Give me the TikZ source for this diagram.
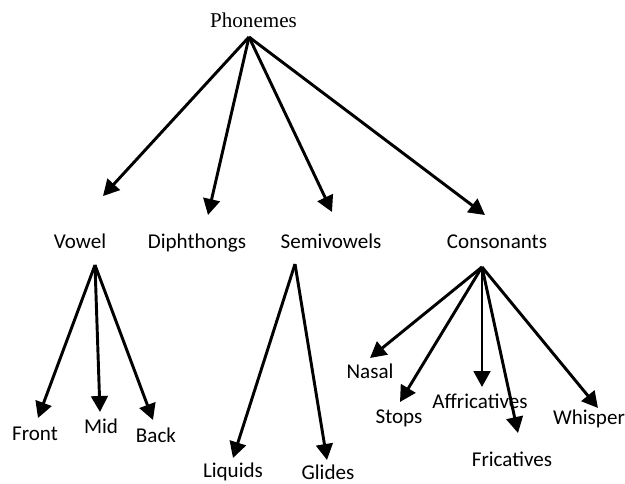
\documentclass[tikz,border=0pt]{standalone}
\usepackage{fontspec}
\setmainfont{Carlito}
\newfontfamily\serifface{Liberation Serif}
\usetikzlibrary{arrows.meta}
\begin{document}
\begin{tikzpicture}[x=0.75pt,y=-0.75pt,
  lbl/.style={anchor=base,inner sep=0pt,font=\fontsize{15.8}{19}\selectfont},
  arr/.style={line width=2.2pt,-{Triangle[length=12pt,width=12.5pt]}}]
\useasboundingbox (0,0) rectangle (625,483);
% labels
\node[lbl,font=\fontsize{15.8}{19}\selectfont\serifface] (phon) at (253.5,27) {Phonemes};
\node[lbl] (vowel) at (80,248) {Vowel};
\node[lbl] (diph) at (197,248) {Diphthongs};
\node[lbl] (semi) at (331,248) {Semivowels};
\node[lbl] (cons) at (497,248) {Consonants};
\node[lbl] (front) at (35,440) {Front};
\node[lbl] (mid) at (101,433) {Mid};
\node[lbl] (back) at (156,442) {Back};
\node[lbl] (liq) at (233,477) {Liquids};
\node[lbl] (glid) at (328,479) {Glides};
\node[lbl] (nasal) at (370,378) {Nasal};
\node[lbl] (stops) at (399,423) {Stops};
\node[lbl] (affr) at (480,408) {Affricatives};
\node[lbl] (fric) at (512,466) {Fricatives};
\node[lbl] (whis) at (589,424) {Whisper};
% apexes
\coordinate (pA) at (249,37);
\coordinate (vA) at (95,265);
\coordinate (sA) at (295,264);
\coordinate (cA) at (482,267);
% tips
\coordinate (tVowel) at (103,196);
\coordinate (tDiph) at (208,215);
\coordinate (tSemi) at (332,212);
\coordinate (tCons) at (485,215);
\coordinate (tFront) at (38,418);
\coordinate (tMid) at (100,412);
\coordinate (tBack) at (153,420);
\coordinate (tLiq) at (233,458);
\coordinate (tGlid) at (327,460);
\coordinate (tNasal) at (370,358);
\coordinate (tStops) at (400,402);
\coordinate (tAffr) at (482,387);
\coordinate (tFric) at (518,433);
\coordinate (tWhis) at (598,408);
% arrows
\draw[arr] (pA) -- (tVowel);
\draw[arr] (pA) -- (tDiph);
\draw[arr] (pA) -- (tSemi);
\draw[arr] (pA) -- (tCons);
\draw[arr] (vA) -- (tFront);
\draw[arr] (vA) -- (tMid);
\draw[arr] (vA) -- (tBack);
\draw[arr] (sA) -- (tLiq);
\draw[arr] (sA) -- (tGlid);
\draw[arr] (cA) -- (tNasal);
\draw[arr] (cA) -- (tStops);
\draw[arr] (cA) -- (tAffr);
\draw[arr] (cA) -- (tFric);
\draw[arr] (cA) -- (tWhis);
\end{tikzpicture}
\end{document}
